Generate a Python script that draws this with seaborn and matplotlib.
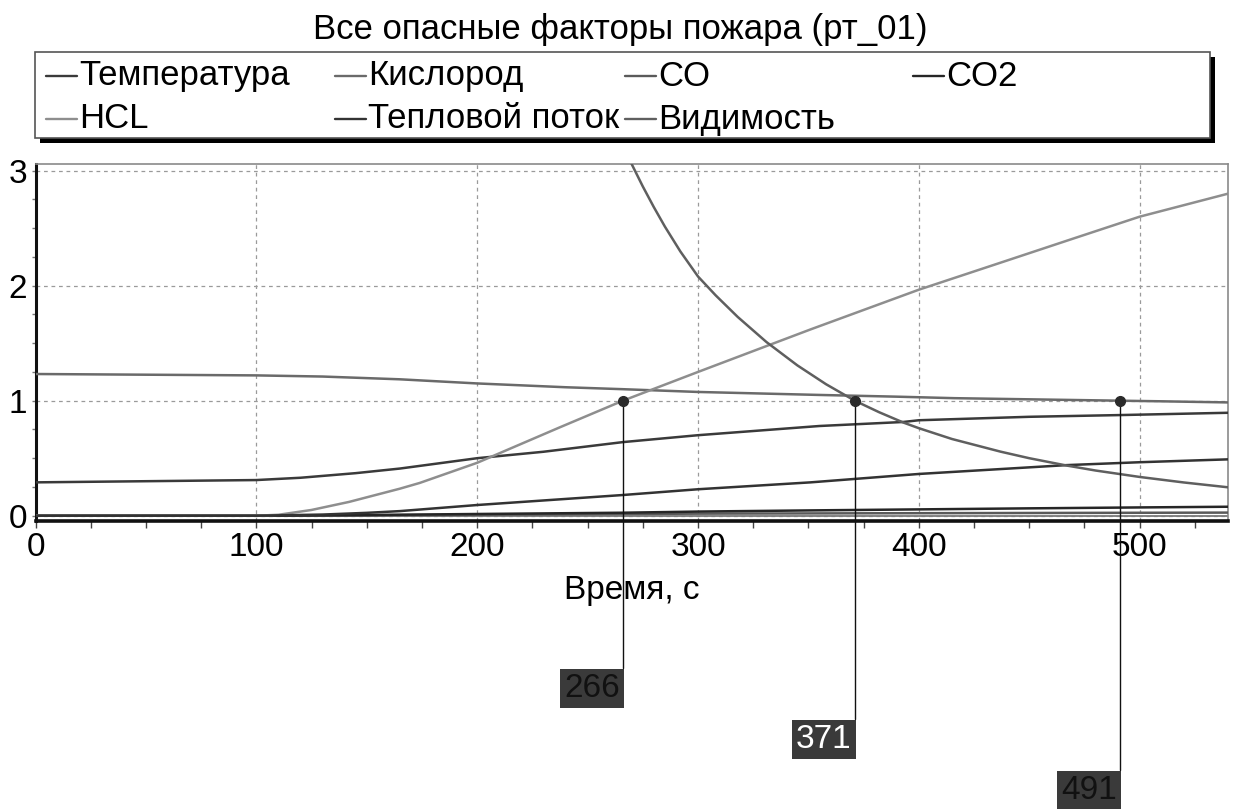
import matplotlib
matplotlib.use("Agg")
import matplotlib.pyplot as plt
from matplotlib.patches import Rectangle
from matplotlib.lines import Line2D
from matplotlib.ticker import MultipleLocator
import seaborn as sns
import pandas as pd

# ---------------- data ----------------
series_names = ["Температура", "Кислород", "CO", "CO2", "HCL", "Тепловой поток", "Видимость"]

temp_t = [0, 50, 100, 120, 145, 165, 200, 230, 266, 300, 355, 393, 400, 450, 491, 540]
temp_v = [0.29, 0.30, 0.31, 0.33, 0.37, 0.41, 0.50, 0.556, 0.64, 0.70, 0.78, 0.815, 0.83, 0.86, 0.875, 0.895]

oxy_t = [0, 50, 100, 130, 165, 200, 240, 266, 300, 355, 390, 416, 450, 491, 509, 540]
oxy_v = [1.232, 1.226, 1.22, 1.21, 1.186, 1.15, 1.117, 1.10, 1.076, 1.05, 1.035, 1.022, 1.012, 1.0, 0.995, 0.985]

co_t = [0, 100, 200, 266, 300, 400, 540]
co_v = [0.0, 0.0, 0.008, 0.015, 0.018, 0.022, 0.027]

co2_t = [0, 100, 150, 200, 266, 300, 350, 400, 450, 500, 540]
co2_v = [0.0, 0.0, 0.006, 0.015, 0.026, 0.036, 0.046, 0.055, 0.064, 0.072, 0.078]

hcl_t = [0, 100, 110, 125, 142, 165, 174, 200, 237, 266, 300, 331, 351, 400, 437, 470, 500, 520, 540]
hcl_v = [0.0, 0.0, 0.008, 0.05, 0.12, 0.235, 0.285, 0.46, 0.765, 1.0, 1.25, 1.475, 1.62, 1.965, 2.20, 2.41, 2.60, 2.70, 2.80]

heat_t = [0, 100, 130, 150, 165, 200, 266, 300, 351, 400, 467, 500, 540]
heat_v = [0.0, 0.0, 0.01, 0.025, 0.04, 0.093, 0.18, 0.23, 0.29, 0.363, 0.44, 0.465, 0.49]

vis_t = [250, 255, 262, 270, 275, 280, 285, 292, 300, 308, 318, 331, 345, 358, 371,
         382, 393, 400, 415, 437, 450, 467, 480, 500, 520, 540]
vis_v = [3.97, 3.72, 3.39, 3.056, 2.863, 2.683, 2.514, 2.298, 2.08, 1.916, 1.728, 1.51, 1.307, 1.143, 1.0,
         0.90, 0.81, 0.761, 0.667, 0.557, 0.50, 0.436, 0.393, 0.337, 0.289, 0.247]

threshold_times = [266, 371, 491]
threshold_level = 1.0
x_ticks = [0, 100, 200, 300, 400, 500]
y_ticks = [0, 1, 2, 3]

title = "Все опасные факторы пожара (рт_01)"
x_label = "Время, с"

palette = {
    "Температура": "#3a3a3a",
    "Кислород": "#6a6a6a",
    "CO": "#5a5a5a",
    "CO2": "#262626",
    "HCL": "#8e8e8e",
    "Тепловой поток": "#333333",
    "Видимость": "#5f5f5f",
}

# ---------------- build frame ----------------
pairs = {
    "Температура": (temp_t, temp_v),
    "Кислород": (oxy_t, oxy_v),
    "CO": (co_t, co_v),
    "CO2": (co2_t, co2_v),
    "HCL": (hcl_t, hcl_v),
    "Тепловой поток": (heat_t, heat_v),
    "Видимость": (vis_t, vis_v),
}
rows = []
for name in series_names:
    ts, vs = pairs[name]
    for t, v in zip(ts, vs):
        rows.append({"t": t, "v": v, "series": name})
df = pd.DataFrame(rows)

# ---------------- figure ----------------
sns.set_theme(style="white")
plt.rcParams["font.family"] = ["Liberation Sans", "DejaVu Sans"]

W, H = 1236, 809
fig = plt.figure(figsize=(W / 100, H / 100), dpi=100)
ax_left, ax_right, ax_top, ax_bottom = 35.5, 1228, 164, 521
ax = fig.add_axes([ax_left / W, 1 - ax_bottom / H, (ax_right - ax_left) / W, (ax_bottom - ax_top) / H])

ax.axhline(0, color="#7a7a7a", lw=1.3, zorder=1)
sns.lineplot(data=df, x="t", y="v", hue="series", hue_order=series_names, palette=palette,
             estimator=None, sort=False, legend=False, lw=1.8, ax=ax, zorder=3)

ax.set_xlim(0, 540)
ax.set_ylim(-0.046, 3.058)
ax.set_xticks(x_ticks)
ax.set_yticks(y_ticks)
ax.xaxis.set_minor_locator(MultipleLocator(25))
ax.yaxis.set_minor_locator(MultipleLocator(0.25))
ax.grid(True, which="major", ls=(0, (3, 3)), color="#9a9a9a", lw=0.9)
ax.tick_params(axis="x", which="both", bottom=True, length=5, width=1, color="#444",
               direction="out", labelsize=24, pad=3, labelcolor="black")
ax.tick_params(axis="y", which="both", left=True, length=3, width=1, color="#777",
               direction="out", labelsize=24, pad=3, labelcolor="black")

for side in ["top", "right"]:
    ax.spines[side].set_color("#8a8a8a")
    ax.spines[side].set_linewidth(1.2)
ax.spines["left"].set_color("#111")
ax.spines["left"].set_linewidth(2.2)
ax.spines["bottom"].set_color("#111")
ax.spines["bottom"].set_linewidth(2.6)

ax.set_xlabel(x_label, fontsize=24, color="black")
ax.set_ylabel("")
ax.xaxis.label.set_va("center")
ax.xaxis.set_label_coords(0.5, -(590 - ax_bottom) / (ax_bottom - ax_top))

# threshold markers with value boxes
px_per_unit = (ax_bottom - ax_top) / (3.058 + 0.046)
box_tops_px = [668, 719, 770]
text_colors = ["#111111", "#ffffff", "#111111"]
for t, top_px, tc in zip(threshold_times, box_tops_px, text_colors):
    y_top = 0 - (top_px - 515.7) / px_per_unit
    ax.plot([t, t], [threshold_level, y_top], color="#111", lw=1.0, clip_on=False, zorder=4)
    ax.plot([t], [threshold_level], marker="o", ms=7, color="#2a2a2a", zorder=6, clip_on=False)
    ax.annotate(str(t), xy=(t, y_top), xycoords="data", xytext=(-3, -5), textcoords="offset pixels",
                ha="right", va="top", fontsize=24, color=tc, annotation_clip=False,
                bbox=dict(boxstyle="square,pad=0.12", fc="#3a3a3a", ec="none"))

# title
fig.text(620 / W, 1 - 29 / H, title, ha="center", va="center", fontsize=25, color="black")

# legend (fixed-grid, boxed with shadow)
def fx(px):
    return px / W

def fy(py):
    return 1 - py / H

lx0, lx1, ly0, ly1 = 35, 1210, 52, 138
fig.add_artist(Rectangle((fx(lx0 + 5), fy(ly1 + 5)), fx(lx1 - lx0), (ly1 - ly0) / H,
                         transform=fig.transFigure, fc="black", ec="none", zorder=1))
fig.add_artist(Rectangle((fx(lx0), fy(ly1)), fx(lx1 - lx0), (ly1 - ly0) / H,
                         transform=fig.transFigure, fc="white", ec="#555", lw=1.2, zorder=2))
col_x = [46, 335, 625, 913]
row_y = [76, 119]
for i, name in enumerate(series_names):
    r, c = divmod(i, 4)
    x0 = col_x[c]
    y0 = row_y[r]
    fig.add_artist(Line2D([fx(x0), fx(x0 + 31)], [fy(y0), fy(y0)], transform=fig.transFigure,
                          color=palette[name], lw=1.7, zorder=3))
    fig.text(fx(x0 + 33), fy(y0), name, ha="left", va="center", fontsize=25, color="black", zorder=3)

fig.savefig("out.png", dpi=100, facecolor="white")
